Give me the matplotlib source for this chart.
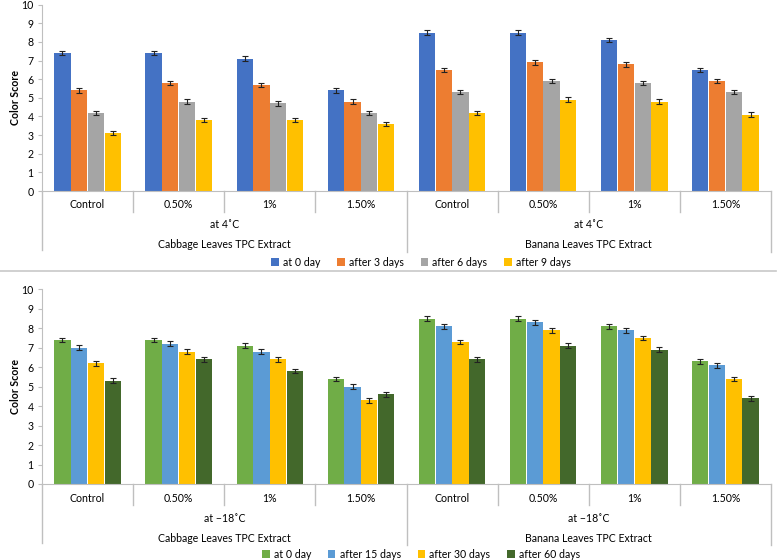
import matplotlib
matplotlib.use("Agg")
import matplotlib.pyplot as plt
import numpy as np
from matplotlib.lines import Line2D

plt.rcParams['font.family'] = ['Lato', 'DejaVu Sans']

categories = ["Control", "0.50%", "1%", "1.50%", "Control", "0.50%", "1%", "1.50%"]
extracts = ["Cabbage Leaves TPC Extract", "Banana Leaves TPC Extract"]

# Panel 1: at 4 C
temp1 = "at 4˚C"
series1_names = ["at 0 day", "after 3 days", "after 6 days", "after 9 days"]
series1_colors = ["#4472C4", "#ED7D31", "#A5A5A5", "#FFC000"]
day0_4c = [7.4, 7.4, 7.1, 5.4, 8.5, 8.5, 8.1, 6.5]
day3_4c = [5.4, 5.8, 5.7, 4.8, 6.5, 6.9, 6.8, 5.9]
day6_4c = [4.2, 4.8, 4.7, 4.2, 5.3, 5.9, 5.8, 5.3]
day9_4c = [3.1, 3.8, 3.8, 3.6, 4.2, 4.9, 4.8, 4.1]
err1 = [0.12, 0.12, 0.12, 0.12]

# Panel 2: at -18 C
temp2 = "at \u221218˚C"
series2_names = ["at 0 day", "after 15 days", "after 30 days", "after 60 days"]
series2_colors = ["#70AD47", "#5B9BD5", "#FFC000", "#43682B"]
day0_18c = [7.4, 7.4, 7.1, 5.4, 8.5, 8.5, 8.1, 6.3]
day15_18c = [7.0, 7.2, 6.8, 5.0, 8.1, 8.3, 7.9, 6.1]
day30_18c = [6.2, 6.8, 6.4, 4.3, 7.3, 7.9, 7.5, 5.4]
day60_18c = [5.3, 6.4, 5.8, 4.6, 6.4, 7.1, 6.9, 4.4]
err2 = [0.12, 0.12, 0.12, 0.12]

W, H = 778, 560
fig = plt.figure(figsize=(W / 100, H / 100), dpi=100)

FS = 7.6
LINE = "#BFBFBF"


def panel(rect, series, names, colors, errs, temp):
    ax = fig.add_axes(rect)
    n = len(categories)
    x = np.arange(n)
    bw = 0.178
    step = 0.184
    for i, (vals, nm, c, e) in enumerate(zip(series, names, colors, errs)):
        ax.bar(x + (i - 1.5) * step, vals, width=bw, color=c, label=nm,
               yerr=e, error_kw=dict(ecolor="#222222", elinewidth=0.8, capsize=2.2, capthick=0.8),
               zorder=2)
    ax.set_xlim(-0.5, n - 0.5)
    ax.set_ylim(0, 10)
    ax.set_yticks(range(0, 11))
    ax.tick_params(axis='y', labelsize=FS, length=3, color=LINE, pad=3, labelcolor="#000000")
    ax.set_xticks([])
    for s in ["top", "right"]:
        ax.spines[s].set_visible(False)
    ax.spines["left"].set_color(LINE)
    ax.spines["bottom"].set_color(LINE)
    ax.set_ylabel("Color Score", fontsize=FS, fontweight="bold", labelpad=0)
    tr = ax.get_xaxis_transform()
    hpx = rect[3] * H
    def fy(px):
        return -px / hpx
    # category labels & separators
    for i in range(n):
        ax.text(i, fy(14), categories[i], transform=tr, ha="center", va="center", fontsize=FS)
    for b in range(1, n + 1):
        xb = b - 0.5
        depth = 61 if b in (4, 8) else 21
        ax.add_line(Line2D([xb, xb], [0, fy(depth)], transform=tr, color=LINE, lw=1, clip_on=False))
    ax.add_line(Line2D([-0.5, -0.5], [0, fy(59)], transform=tr, color=LINE, lw=1, clip_on=False))
    for g in range(2):
        cx = g * 4 + 1.5
        ax.text(cx, fy(34), temp, transform=tr, ha="center", va="center", fontsize=FS)
        ax.text(cx, fy(54), extracts[g], transform=tr, ha="center", va="center", fontsize=FS)
    return ax


ax1 = panel([42 / W, 1 - 191 / H, 729 / W, 186.3 / H],
            [day0_4c, day3_4c, day6_4c, day9_4c], series1_names, series1_colors, err1, temp1)
ax2 = panel([42 / W, 1 - 484 / H, 729 / W, 194.7 / H],
            [day0_18c, day15_18c, day30_18c, day60_18c], series2_names, series2_colors, err2, temp2)

for ax, ycen in [(ax1, 262), (ax2, 554)]:
    fig.legend(*ax.get_legend_handles_labels(), loc="center", bbox_to_anchor=(421 / W, 1 - ycen / H),
               ncol=4, frameon=False, fontsize=FS, handlelength=0.7, handleheight=0.7,
               handletextpad=0.4, columnspacing=1.6, borderpad=0)

fig.add_artist(Line2D([0, 776 / W], [1 - 271.5 / H, 1 - 271.5 / H], transform=fig.transFigure,
                      color="#C8C8C8", lw=1.2))

fig.savefig("out.png", dpi=100, facecolor="white")
